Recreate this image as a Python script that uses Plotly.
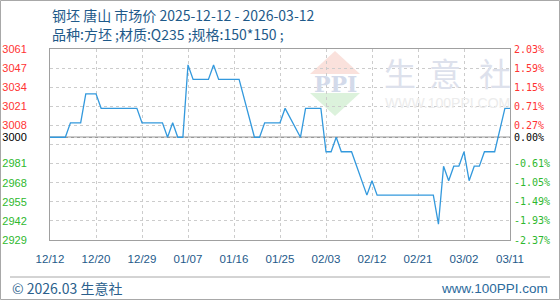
import plotly.graph_objects as go
from datetime import date, timedelta

# ---------------- data ----------------
DATES = [
    "2025-12-12", "2025-12-15", "2025-12-16", "2025-12-18", "2025-12-19", "2025-12-21",
    "2025-12-22", "2025-12-29", "2025-12-30", "2026-01-03", "2026-01-04", "2026-01-05",
    "2026-01-06", "2026-01-07", "2026-01-08", "2026-01-09", "2026-01-12", "2026-01-13",
    "2026-01-14", "2026-01-18", "2026-01-21", "2026-01-22", "2026-01-23", "2026-01-26",
    "2026-01-27", "2026-01-30", "2026-01-31", "2026-02-03", "2026-02-04", "2026-02-05",
    "2026-02-06", "2026-02-07", "2026-02-09", "2026-02-12", "2026-02-13", "2026-02-14",
    "2026-02-25", "2026-02-26", "2026-02-27", "2026-02-28", "2026-03-01", "2026-03-02",
    "2026-03-03", "2026-03-04", "2026-03-05", "2026-03-06", "2026-03-07", "2026-03-09",
    "2026-03-11", "2026-03-12",
]
PRICES = [
    3000, 3000, 3010, 3010, 3030, 3030,
    3020, 3020, 3010, 3010, 3000, 3010,
    3000, 3000, 3050, 3040, 3040, 3050,
    3040, 3040, 3000, 3000, 3010, 3010,
    3020, 3000, 3020, 3020, 2990, 2990,
    3000, 2990, 2990, 2960, 2970, 2960,
    2960, 2940, 2980, 2970, 2980, 2980,
    2990, 2970, 2980, 2980, 2990, 2990,
    3020, 3020,
]
BASE_PRICE = 3000
BASE_LABEL = "3000"
BASE_PCT = "0.00%"
Y_MIN, Y_MAX = 2929, 3061
X_LABELS = ["12/12", "12/20", "12/29", "01/07", "01/16", "01/25",
            "02/03", "02/12", "02/21", "03/02", "03/11"]
LEFT_LABELS = ["3061", "3047", "3034", "3021", "3008", "",
               "2981", "2968", "2955", "2942", "2929"]
RIGHT_LABELS = ["2.03%", "1.59%", "1.15%", "0.71%", "0.27%", "",
                "-0.61%", "-1.05%", "-1.49%", "-1.93%", "-2.37%"]
TITLE = "钢坯 唐山 市场价 2025-12-12 - 2026-03-12"
SUBTITLE = "品种:方坯 ;材质:Q235 ;规格:150*150 ;"
FOOTER_LEFT = "© 2026.03 生意社"
FOOTER_RIGHT = "www.100PPI.com"
WM_CHARS = ["生", "意", "社"]
WM_URL = "WWW.100PPI.COM"
WM_LOGO = "PPI"

# ---------------- layout constants ----------------
W, H = 560, 300
L, R, T, B = 50, 50, 49, 60
PW, PH = W - L - R, H - T - B
RED, GREEN, BLACK = "#ff3333", "#2eb82e", "#000000"
TXT = "#1e5a8a"
GRIDC = "#cccccc"
AXC = "#a0a0a0"


def px(x):
    return (x - L) / PW


def py(y):
    return (H - B - y) / PH


start = date(2025, 12, 12)
end = date(2026, 3, 12)
n_grid = len(X_LABELS) - 1
step = (end - start).days // n_grid
xticks = [start + timedelta(days=step * i) for i in range(len(X_LABELS))]

grid_vals = [Y_MAX - i * (Y_MAX - Y_MIN) / 10 for i in range(11)]


def col(v):
    if abs(v - BASE_PRICE) < 1e-9:
        return BLACK
    return RED if v > BASE_PRICE else GREEN


left_text = [f'<span style="color:{col(v)}">{t}</span>' for v, t in zip(grid_vals, LEFT_LABELS)]
right_text = [f'<span style="color:{col(v)}">{t}</span>' for v, t in zip(grid_vals, RIGHT_LABELS)]
yvals = grid_vals + [BASE_PRICE]
left_text.append(f'<span style="color:{BLACK}">{BASE_LABEL}</span>')
right_text.append(f'<span style="color:{BLACK}">{BASE_PCT}</span>')

fig = go.Figure()
fig.add_trace(go.Scatter(x=DATES, y=PRICES, mode="lines",
                         line=dict(color="#3399dd", width=1.3),
                         hoverinfo="skip", showlegend=False))
fig.add_trace(go.Scatter(x=[DATES[0]], y=[PRICES[0]], yaxis="y2", mode="lines",
                         line=dict(width=0), hoverinfo="skip", showlegend=False))

fig.update_layout(
    template="none",
    width=W, height=H,
    margin=dict(l=L, r=R, t=T, b=B, pad=0, autoexpand=False),
    paper_bgcolor="white", plot_bgcolor="white",
    showlegend=False,
    xaxis=dict(
        type="date", range=[start, end], automargin=False,
        tickmode="array", tickvals=xticks, ticktext=X_LABELS, tickangle=0,
        showgrid=True, gridcolor=GRIDC, griddash="3px,3px", gridwidth=1,
        showline=True, linecolor=AXC, linewidth=1, mirror=True,
        ticks="", ticklabelstandoff=8,
        tickfont=dict(family="Liberation Sans, Arial", size=11.5, color=TXT),
        zeroline=False, fixedrange=True,
    ),
    yaxis=dict(
        range=[Y_MIN, Y_MAX], automargin=False,
        tickmode="array", tickvals=yvals, ticktext=left_text,
        showgrid=True, gridcolor=GRIDC, griddash="3px,3px", gridwidth=1,
        showline=True, linecolor=AXC, linewidth=1, mirror=True,
        ticks="", ticklabelstandoff=20,
        tickfont=dict(family="Liberation Sans, Arial", size=11),
        zeroline=False, fixedrange=True,
    ),
    yaxis2=dict(
        range=[Y_MIN, Y_MAX], overlaying="y", side="right", anchor="x", automargin=False,
        tickmode="array", tickvals=yvals, ticktext=right_text,
        showgrid=False, showline=False, ticks="", ticklabelstandoff=3,
        tickfont=dict(family="DejaVu Sans Mono", size=10),
        zeroline=False, fixedrange=True,
    ),
)

shapes = []
shapes.append(dict(type="line", xref="paper", yref="y", x0=0, x1=1,
                   y0=BASE_PRICE, y1=BASE_PRICE, line=dict(color="#999999", width=1.3),
                   layer="between"))
shapes.append(dict(type="rect", xref="paper", yref="paper",
                   x0=px(0.5), x1=px(W - 0.5), y0=py(H - 0.5), y1=py(0.5),
                   line=dict(color="#a8a8a8", width=1), fillcolor="rgba(0,0,0,0)",
                   layer="above"))
shapes.append(dict(type="line", xref="paper", yref="paper",
                   x0=px(10), x1=px(550), y0=py(277), y1=py(277),
                   line=dict(color="#a8a8a8", width=1)))
shapes.append(dict(type="path", xref="paper", yref="paper",
                   path=f"M {px(335)} {py(51)} L {px(310)} {py(74)} L {px(360)} {py(74)} Z",
                   fillcolor="rgba(246,205,196,0.6)", line=dict(width=0), layer="below"))
shapes.append(dict(type="path", xref="paper", yref="paper",
                   path=f"M {px(310)} {py(93)} L {px(360)} {py(93)} L {px(335)} {py(116)} Z",
                   fillcolor="rgba(205,236,205,0.7)", line=dict(width=0), layer="below"))
fig.update_layout(shapes=shapes)

ann = []
ann.append(dict(text=TITLE, x=px(50), y=py(15), xref="paper", yref="paper",
                xanchor="left", yanchor="middle", showarrow=False,
                font=dict(family="Noto Sans CJK SC", size=14, color=TXT)))
ann.append(dict(text=SUBTITLE, x=px(50), y=py(34), xref="paper", yref="paper",
                xanchor="left", yanchor="middle", showarrow=False,
                font=dict(family="Noto Sans CJK SC", size=14, color=TXT)))
ann.append(dict(text=FOOTER_LEFT, x=px(10), y=py(288), xref="paper", yref="paper",
                xanchor="left", yanchor="middle", showarrow=False,
                font=dict(family="Noto Sans CJK SC", size=14, color="#2b5f8c")))
ann.append(dict(text=FOOTER_RIGHT, x=px(550), y=py(288), xref="paper", yref="paper",
                xanchor="right", yanchor="middle", showarrow=False,
                font=dict(family="Liberation Sans, Arial", size=13.5, color="#2b6a9c")))
for cx, ch in zip([400, 445, 495], WM_CHARS):
    ann.append(dict(text=ch, x=px(cx), y=py(72), xref="paper", yref="paper",
                    xanchor="center", yanchor="middle", showarrow=False,
                    font=dict(family="Noto Sans CJK SC", size=32, color="#dde1ec")))
ann.append(dict(text=WM_URL, x=px(447), y=py(102.5), xref="paper", yref="paper",
                xanchor="center", yanchor="middle", showarrow=False,
                font=dict(family="Liberation Sans, Arial", size=14, color="#ececec")))
ann.append(dict(text=f"<b>{WM_LOGO}</b>", x=px(335), y=py(84), xref="paper", yref="paper",
                xanchor="center", yanchor="middle", showarrow=False,
                font=dict(family="DejaVu Serif", size=22, color="#d3daea")))
fig.update_layout(annotations=ann)

fig.write_html("out.html")
